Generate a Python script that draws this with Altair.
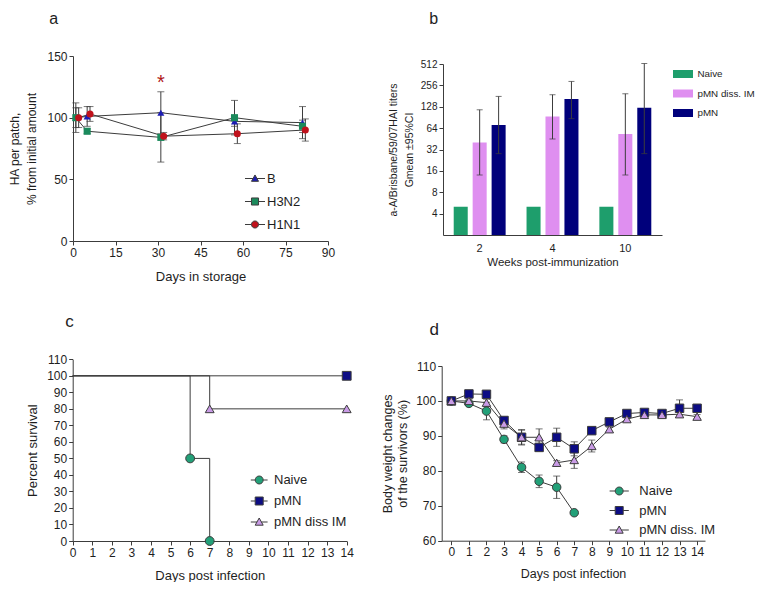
import altair as alt
import pandas as pd

FONT = "Liberation Sans"
INK = "#3c3c3c"
TXT = "#1e1e1e"

# ---------------- panel a : HA per patch during storage ----------------
a_series = ["B", "H3N2", "H1N1"]
a_colors = ["#1c1cb4", "#1b8a5c", "#c0121c"]
a_shapes = ["triangle-up", "square", "circle"]
a_days_B = [1, 5, 31, 57, 81]
a_val_B = [100, 101, 104, 97, 96]
a_err_B = [8, 8, 17, 4, 13]
a_days_H3N2 = [1, 5, 31, 57, 81]
a_val_H3N2 = [100, 89, 84, 100, 93]
a_err_H3N2 = [12, 2, 20, 14, 5]
a_days_H1N1 = [2, 6, 32, 58, 82]
a_val_H1N1 = [100, 103, 85, 87, 90]
a_err_H1N1 = [8, 6, 3, 8, 9]
a_star_day = [31]
a_star_val = [131]
a_x_ticks = [0, 15, 30, 45, 60, 75, 90]
a_y_ticks = [0, 50, 100, 150]

# ---------------- panel b : HAI titers ----------------
b_weeks = ["2", "4", "10"]
b_groups = ["Naive", "pMN diss. IM", "pMN"]
b_colors = ["#1e9e6c", "#df8ff0", "#00007b"]
b_naive = [5, 5, 5]
b_diss = [40, 93, 53]
b_diss_lo = [14, 45, 14]
b_diss_hi = [116, 189, 195]
b_pmn = [71, 164, 124]
b_pmn_lo = [28, 87, 28]
b_pmn_hi = [179, 291, 520]
b_floor = 2
b_y_ticks = [4, 8, 16, 32, 64, 128, 256, 512]

# ---------------- panel c : survival ----------------
c_series = ["Naive", "pMN", "pMN diss IM"]
c_colors = ["#22a078", "#0c0c84", "#c99be6"]
c_shapes = ["circle", "square", "triangle-up"]
c_days_naive = [0, 6, 7]
c_surv_naive = [100, 50, 0]
c_days_pmn = [0, 14]
c_surv_pmn = [100, 100]
c_days_diss = [0, 7, 14]
c_surv_diss = [100, 80, 80]
c_x_ticks = list(range(0, 15))
c_y_ticks = list(range(0, 111, 10))

# ---------------- panel d : body weight ----------------
d_series = ["Naive", "pMN", "pMN diss. IM"]
d_colors = ["#22a078", "#0c0c84", "#c99be6"]
d_shapes = ["circle", "square", "triangle-up"]
d_days = list(range(15))
d_naive = [100, 99.3, 97.1, 89.0, 81.0, 77.0, 75.3, 68.0]
d_naive_err = [0, 0.5, 2.5, 1.0, 1.5, 1.8, 3.2, 0]
d_pmn = [100, 102.0, 101.9, 94.4, 89.6, 86.7, 89.6, 86.3, 91.5, 94.0, 96.4, 96.7, 96.4, 97.9, 97.9]
d_pmn_err = [0, 0.6, 0.6, 1.0, 2.2, 1.0, 2.6, 2.0, 1.0, 0.6, 0.6, 0.6, 0.6, 2.4, 0.6]
d_diss = [100, 100.0, 99.5, 93.5, 89.6, 89.6, 82.3, 83.1, 87.1, 91.9, 94.8, 96.0, 96.0, 96.2, 95.5]
d_diss_err = [0, 0.5, 1.0, 1.5, 2.0, 2.4, 0.6, 2.4, 1.7, 0.6, 0.6, 0.6, 0.6, 0.6, 0.6]
d_x_ticks = list(range(0, 15))
d_y_ticks = [60, 70, 80, 90, 100, 110]


def legend_paths(L, tri_half=0.55):
    """Legend symbols: the marker with a short connecting line through it."""
    circ = f"M-{L},0H-1M1,0H{L}M-1,0A1,1,0,1,1,1,0A1,1,0,1,1,-1,0Z"
    sq = f"M-{L},0H-1M1,0H{L}M-1,-1H1V1H-1Z"
    tri = f"M-{L},0H-{tri_half}M{tri_half},0H{L}M0,-1L1,0.8H-1Z"
    return {"circle": circ, "square": sq, "triangle-up": tri}


def letter(ch, x, y, baseline="alphabetic", size=17):
    return alt.Chart(pd.DataFrame({"t": [ch]})).mark_text(
        fontSize=size, align="center", baseline=baseline, color=TXT
    ).encode(text="t:N", x=alt.value(x), y=alt.value(y))


# ======================= panel a =======================
rows = []
for s, ds, vs, es in zip(a_series, [a_days_B, a_days_H3N2, a_days_H1N1],
                         [a_val_B, a_val_H3N2, a_val_H1N1], [a_err_B, a_err_H3N2, a_err_H1N1]):
    for d, v, e in zip(ds, vs, es):
        rows.append({"series": s, "day": d, "value": v, "lo": v - e, "hi": v + e})
df_a = pd.DataFrame(rows)
df_star = pd.DataFrame({"day": a_star_day, "value": a_star_val})


def a_x(f):
    return alt.X(f"{f}:Q", scale=alt.Scale(domain=[0, 90], range=[65, 320], nice=False, zero=False),
                 axis=alt.Axis(orient="bottom", offset=-341, values=a_x_ticks, labelFontSize=12,
                               title="Days in storage", titleFontSize=13, titleX=192.5, titleY=39,
                               titleBaseline="alphabetic"))


def a_y(f):
    return alt.Y(f"{f}:Q", scale=alt.Scale(domain=[0, 150], range=[233, 48], nice=False, zero=False),
                 axis=alt.Axis(orient="left", offset=-65, values=a_y_ticks, labelFontSize=12,
                               title=["HA per patch,", "% from initial amount"], titleFontSize=12,
                               titleX=-52, titleY=140.5, titleLineHeight=17))


a_color = alt.Color("series:N", scale=alt.Scale(domain=a_series, range=a_colors), legend=None)
a_shape = alt.Shape("series:N", scale=alt.Scale(domain=a_series, range=a_shapes), legend=None)
pa = legend_paths(2.83)
leg_a = alt.Legend(orient="none", legendX=240.5, legendY=164, title=None, symbolSize=50,
                   labelFontSize=13, labelOffset=5.5, rowPadding=9, padding=0,
                   symbolOpacity=1, symbolStrokeWidth=1)

line_a = alt.Chart(df_a).mark_line(color=INK, strokeWidth=1).encode(
    x=a_x("day"), y=a_y("value"), detail="series:N")
rule_a = alt.Chart(df_a).mark_rule(color=INK, strokeWidth=1).encode(
    x=a_x("day"), y=a_y("lo"), y2=alt.Y2("hi:Q"))
caphi_a = alt.Chart(df_a).mark_tick(orient="horizontal", size=7, thickness=1, color=INK).encode(
    x=a_x("day"), y=a_y("hi"))
caplo_a = alt.Chart(df_a).mark_tick(orient="horizontal", size=7, thickness=1, color=INK).encode(
    x=a_x("day"), y=a_y("lo"))
pts_a = alt.Chart(df_a).mark_point(filled=True, opacity=1, size=50).encode(
    x=a_x("day"), y=a_y("value"), color=a_color, shape=a_shape)
lg_a = alt.Chart(pd.DataFrame({"series": a_series})).mark_point(
    filled=True, opacity=0, stroke=INK, strokeWidth=1).encode(
    color=alt.Color("series:N", scale=alt.Scale(domain=a_series, range=a_colors), legend=leg_a),
    shape=alt.Shape("series:N", scale=alt.Scale(domain=a_series, range=[pa[s] for s in a_shapes]),
                    legend=leg_a))
star_a = alt.Chart(df_star).mark_text(text="*", fontSize=20, color="#b01818", dy=4).encode(
    x=a_x("day"), y=a_y("value"))

panel_a = alt.layer(line_a, rule_a, caphi_a, caplo_a, pts_a, lg_a, star_a,
                    letter("a", 45.7, 3, "top", 16)).resolve_scale(color="independent", shape="independent")

# ======================= panel b =======================
rows = []
for w, n, dv, dl, dh, pv, pl, ph in zip(b_weeks, b_naive, b_diss, b_diss_lo, b_diss_hi,
                                        b_pmn, b_pmn_lo, b_pmn_hi):
    rows.append({"week": w, "group": b_groups[0], "value": n, "base": b_floor, "lo": None, "hi": None})
    rows.append({"week": w, "group": b_groups[1], "value": dv, "base": b_floor, "lo": dl, "hi": dh})
    rows.append({"week": w, "group": b_groups[2], "value": pv, "base": b_floor, "lo": pl, "hi": ph})
df_b = pd.DataFrame(rows)
df_b_err = df_b.dropna(subset=["lo"])

b_x = alt.X("week:N", sort=b_weeks,
            scale=alt.Scale(domain=b_weeks, range=[435, 654], paddingInner=0.287, paddingOuter=0.147),
            axis=alt.Axis(orient="bottom", offset=-347, ticks=False, tickSize=0, labelPadding=7,
                          labelAngle=0, labelFontSize=11, title="Weeks post-immunization",
                          titleFontSize=11.5, titleX=544.5, titleY=30.7, titleBaseline="alphabetic"))
b_xo = alt.XOffset("group:N", sort=b_groups,
                   scale=alt.Scale(domain=b_groups, paddingInner=0.26, paddingOuter=0))


def b_y(f):
    return alt.Y(f"{f}:Q", scale=alt.Scale(type="log", base=2, domain=[2, 512], range=[227, 56], nice=False),
                 axis=alt.Axis(orient="left", offset=-435, values=b_y_ticks, format="d", labelFontSize=10,
                               title=["a-A/Brisbane/59/07HAI  titers", "Gmean \u00b195%CI"],
                               titleFontSize=10.5, titleX=-44.7, titleY=141.5, titleLineHeight=16))


leg_b = alt.Legend(orient="none", legendX=665, legendY=56, title=None,
                   symbolType="M-1,-0.4H1V0.4H-1Z", symbolSize=400, labelFontSize=9.8,
                   labelOffset=4.5, rowPadding=4.5, padding=0, symbolStrokeWidth=0)

bars_b = alt.Chart(df_b).mark_bar().encode(
    x=b_x, xOffset=b_xo, y=b_y("value"), y2=alt.Y2("base:Q"),
    color=alt.Color("group:N", scale=alt.Scale(domain=b_groups, range=b_colors), legend=leg_b))
rule_b = alt.Chart(df_b_err).mark_rule(color=INK, strokeWidth=1).encode(
    x=b_x, xOffset=b_xo, y=b_y("lo"), y2=alt.Y2("hi:Q"))
caphi_b = alt.Chart(df_b_err).mark_tick(orient="horizontal", size=6, thickness=1, color=INK).encode(
    x=b_x, xOffset=b_xo, y=b_y("hi"))
caplo_b = alt.Chart(df_b_err).mark_tick(orient="horizontal", size=6, thickness=1, color=INK).encode(
    x=b_x, xOffset=b_xo, y=b_y("lo"))

panel_b = alt.layer(bars_b, rule_b, caphi_b, caplo_b, letter("b", 425.8, 3, "top", 16))

# ======================= panel c =======================
rows = []
for s, ds, vs in zip(c_series, [c_days_naive, c_days_pmn, c_days_diss],
                     [c_surv_naive, c_surv_pmn, c_surv_diss]):
    for d, v in zip(ds, vs):
        rows.append({"series": s, "day": d, "surv": v})
df_c = pd.DataFrame(rows)
df_c_pts = df_c[df_c["day"] > 0]


def c_x(f):
    return alt.X(f"{f}:Q", scale=alt.Scale(domain=[0, 14], range=[64.7, 338.7], nice=False, zero=False),
                 axis=alt.Axis(orient="bottom", offset=-41, values=c_x_ticks, labelFontSize=12,
                               title="Days post infection", titleFontSize=13, titleX=201.7, titleY=38.3,
                               titleBaseline="alphabetic"))


def c_y(f):
    return alt.Y(f"{f}:Q", scale=alt.Scale(domain=[0, 110], range=[533, 351.3], nice=False, zero=False),
                 axis=alt.Axis(orient="left", offset=-64.7, values=c_y_ticks, labelFontSize=12,
                               title="Percent survival", titleFontSize=13, titleX=-33.5, titleY=442.2))


pc = legend_paths(2.1)
leg_c = alt.Legend(orient="none", legendX=244.7, legendY=465.5, title=None, symbolSize=64,
                   labelFontSize=13, labelOffset=8.3, rowPadding=7, padding=0,
                   symbolOpacity=1, symbolStrokeWidth=1)

line_c = alt.Chart(df_c).mark_line(interpolate="step-after", color=INK, strokeWidth=1).encode(
    x=c_x("day"), y=c_y("surv"), detail="series:N")
pts_c = alt.Chart(df_c_pts).mark_point(filled=True, opacity=1, size=78, stroke=INK, strokeWidth=1).encode(
    x=c_x("day"), y=c_y("surv"),
    color=alt.Color("series:N", scale=alt.Scale(domain=c_series, range=c_colors), legend=None),
    shape=alt.Shape("series:N", scale=alt.Scale(domain=c_series, range=c_shapes), legend=None))
lg_c = alt.Chart(pd.DataFrame({"series": c_series})).mark_point(
    filled=True, opacity=0, stroke=INK, strokeWidth=1).encode(
    color=alt.Color("series:N", scale=alt.Scale(domain=c_series, range=c_colors), legend=leg_c),
    shape=alt.Shape("series:N", scale=alt.Scale(domain=c_series, range=[pc[s] for s in c_shapes]),
                    legend=leg_c))

panel_c = alt.layer(line_c, pts_c, lg_c, letter("c", 61.5, 319.3)).resolve_scale(
    color="independent", shape="independent")

# ======================= panel d =======================
rows = []
for s, vs, es in zip(d_series, [d_naive, d_pmn, d_diss], [d_naive_err, d_pmn_err, d_diss_err]):
    for d, v, e in zip(d_days, vs, es):
        rows.append({"series": s, "day": d, "w": v, "lo": v - e, "hi": v + e})
df_d = pd.DataFrame(rows)


def d_x(f):
    return alt.X(f"{f}:Q", scale=alt.Scale(domain=[-0.55, 14.45], range=[433.7, 697], nice=False, zero=False),
                 axis=alt.Axis(orient="bottom", offset=-41.3, values=d_x_ticks, labelFontSize=12,
                               title="Days post infection", titleFontSize=12.5, titleX=565, titleY=36.6,
                               titleBaseline="alphabetic"))


def d_y(f):
    return alt.Y(f"{f}:Q", scale=alt.Scale(domain=[60, 110], range=[532.7, 358], nice=False, zero=False),
                 axis=alt.Axis(orient="left", offset=-433.7, values=d_y_ticks, labelFontSize=12,
                               title=["Body weight changes", "of the survivors (%)"], titleFontSize=12.5,
                               titleX=-47.4, titleY=445.3, titleLineHeight=15))


pdp = legend_paths(2.4)
leg_d = alt.Legend(orient="none", legendX=604.7, legendY=476.5, title=None, symbolSize=64,
                   labelFontSize=13, labelOffset=13.6, rowPadding=5.5, padding=0,
                   symbolOpacity=1, symbolStrokeWidth=1)

line_d = alt.Chart(df_d).mark_line(color=INK, strokeWidth=1).encode(
    x=d_x("day"), y=d_y("w"), detail="series:N")
rule_d = alt.Chart(df_d).mark_rule(color=INK, strokeWidth=1).encode(
    x=d_x("day"), y=d_y("lo"), y2=alt.Y2("hi:Q"))
caphi_d = alt.Chart(df_d).mark_tick(orient="horizontal", size=7, thickness=1, color=INK).encode(
    x=d_x("day"), y=d_y("hi"))
caplo_d = alt.Chart(df_d).mark_tick(orient="horizontal", size=7, thickness=1, color=INK).encode(
    x=d_x("day"), y=d_y("lo"))
pts_d = alt.Chart(df_d).mark_point(filled=True, opacity=1, size=72, stroke=INK, strokeWidth=1).encode(
    x=d_x("day"), y=d_y("w"),
    color=alt.Color("series:N", scale=alt.Scale(domain=d_series, range=d_colors), legend=None),
    shape=alt.Shape("series:N", scale=alt.Scale(domain=d_series, range=d_shapes), legend=None))
lg_d = alt.Chart(pd.DataFrame({"series": d_series})).mark_point(
    filled=True, opacity=0, stroke=INK, strokeWidth=1).encode(
    color=alt.Color("series:N", scale=alt.Scale(domain=d_series, range=d_colors), legend=leg_d),
    shape=alt.Shape("series:N", scale=alt.Scale(domain=d_series, range=[pdp[s] for s in d_shapes]),
                    legend=leg_d))

panel_d = alt.layer(line_d, rule_d, caphi_d, caplo_d, pts_d, lg_d, letter("d", 426.2, 327)).resolve_scale(
    color="independent", shape="independent")

# ======================= assemble =======================
chart = alt.layer(panel_a, panel_b, panel_c, panel_d).resolve_scale(
    x="independent", y="independent", color="independent", shape="independent"
).resolve_axis(
    x="independent", y="independent"
).properties(
    width=748, height=574, autosize=alt.AutoSizeParams(type="none"), padding=0, background="white"
).configure(font=FONT).configure_view(stroke=None).configure_axis(
    labelFont=FONT, titleFont=FONT, domainColor=INK, tickColor=INK, labelColor=TXT, titleColor=TXT,
    grid=False, tickSize=4, labelPadding=2, titleFontWeight="normal", domainWidth=1, tickWidth=1,
    labelFlush=False, labelOverlap=False, labelBound=False
).configure_legend(labelFont=FONT, labelColor=TXT)

chart.save("out.html", embed_options={"renderer": "svg", "actions": False})
